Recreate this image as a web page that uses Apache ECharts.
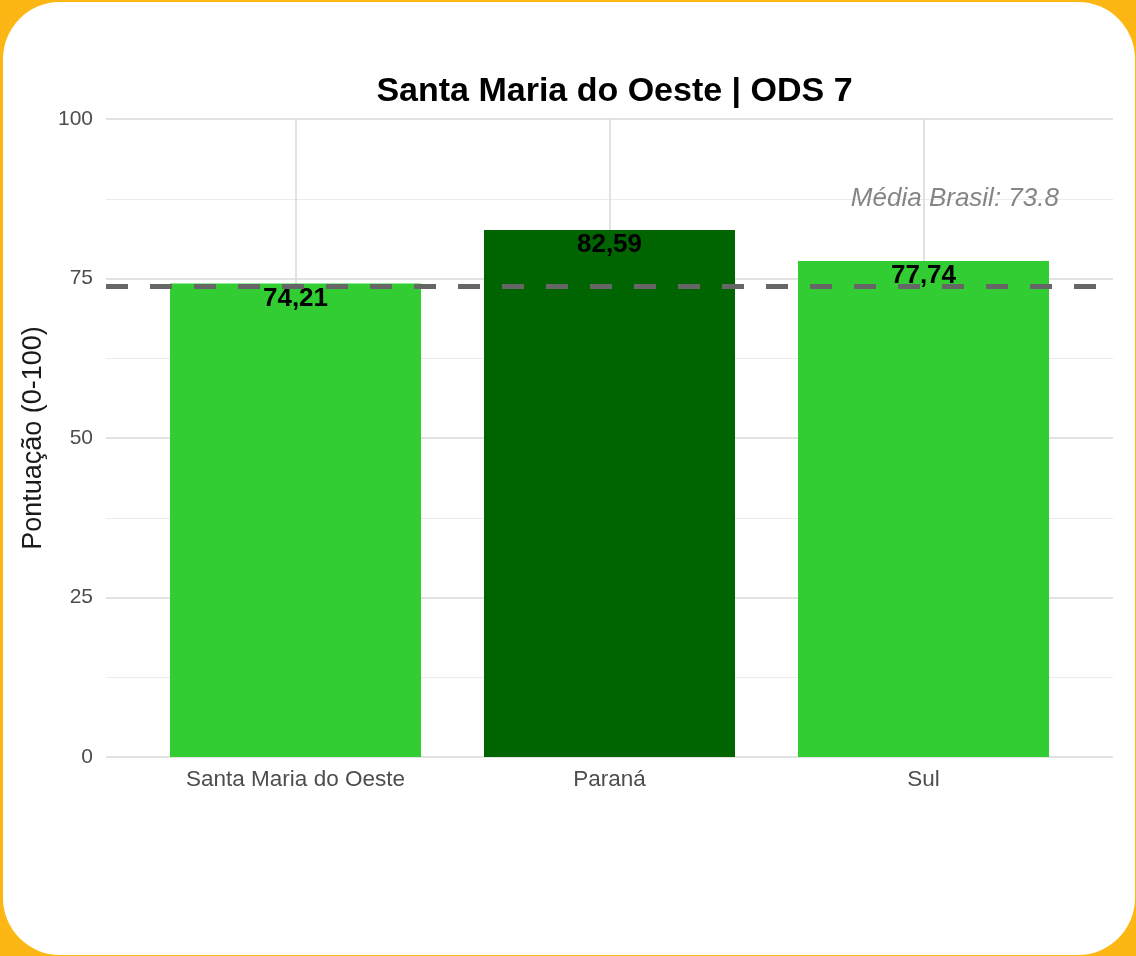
<!DOCTYPE html>
<html>
<head>
<meta charset="utf-8">
<script src="https://cdn.jsdelivr.net/npm/echarts@6/dist/echarts.min.js"></script>
<style>
  html, body { margin:0; padding:0; width:1136px; height:956px; background:#FCB715; overflow:hidden; }
  #panel { position:absolute; left:3px; top:2px; right:1px; bottom:1px; background:#ffffff; border-radius:57px; }
  #chart { position:absolute; left:0; top:0; width:1136px; height:956px; }
</style>
</head>
<body>
<div id="panel"></div>
<div id="chart"></div>
<script>
const titleText = 'Santa Maria do Oeste | ODS 7';
const categories = ['Santa Maria do Oeste', 'Paraná', 'Sul'];
const scores = [74.21, 82.59, 77.74];
const barColors = ['#32CD32', '#006400', '#32CD32'];
const brazilMean = 73.8;
const brazilLabelPos = [0.843, 87.5];
const yTicks = [0, 25, 50, 75, 100];

const chart = echarts.init(document.getElementById('chart'), null, { renderer: 'canvas' });
const fontFam = '"Liberation Sans", Arial, sans-serif';

chart.setOption({
  backgroundColor: 'transparent',
  animation: false,
  title: {
    text: titleText,
    left: 609.5, top: 70, textAlign: 'center',
    textStyle: { fontFamily: fontFam, fontSize: 34, fontWeight: 'bold', color: '#000' }
  },
  grid: [
    { left: 106, top: 119, width: 1007, height: 638 },
    { left: 295.5, top: 119, width: 628, height: 638 }
  ],
  xAxis: [
    { gridIndex: 0, type: 'value', min: 0, max: 1, show: false },
    {
      gridIndex: 1, type: 'category', data: categories, boundaryGap: false,
      axisLine: { show: false }, axisTick: { show: false },
      axisLabel: { color: '#4d4d4d', fontSize: 22.5, fontFamily: fontFam, margin: 11 },
      splitLine: { show: true, lineStyle: { color: '#d9d9d9', width: 1.5 } }
    }
  ],
  yAxis: [
    {
      gridIndex: 0, type: 'value', min: yTicks[0], max: yTicks[yTicks.length - 1], interval: 25,
      name: 'Pontuação (0-100)', nameLocation: 'middle', nameGap: 56, nameRotate: 90,
      nameTextStyle: { color: '#1a1a1a', fontSize: 27, fontFamily: fontFam },
      axisLine: { show: false }, axisTick: { show: false },
      axisLabel: { color: '#4d4d4d', fontSize: 21, fontFamily: fontFam, margin: 13 },
      splitLine: { show: true, lineStyle: { color: '#d9d9d9', width: 1.5 } },
      minorTick: { show: false, splitNumber: 2 },
      minorSplitLine: { show: true, lineStyle: { color: '#ebebeb', width: 1 } }
    },
    { gridIndex: 1, type: 'value', min: 0, max: 100, show: false }
  ],
  series: [
    {
      type: 'bar', xAxisIndex: 1, yAxisIndex: 1, barWidth: 251, clip: false,
      data: scores.map((v, i) => ({ value: v, itemStyle: { color: barColors[i] } })),
      label: {
        show: true, position: 'insideTop', distance: 2,
        formatter: p => p.value.toFixed(2).replace('.', ','),
        fontFamily: fontFam, fontSize: 26, fontWeight: 'bold', color: '#000'
      },
      z: 2
    },
    {
      type: 'scatter', xAxisIndex: 0, yAxisIndex: 0, symbolSize: 0,
      data: [brazilLabelPos],
      label: {
        show: true, position: 'inside',
        formatter: 'Média Brasil: ' + brazilMean,
        fontFamily: fontFam, fontSize: 26, fontStyle: 'italic', color: '#666666'
      },
      markLine: {
        silent: true, symbol: 'none', label: { show: false },
        lineStyle: { color: '#666666', width: 5, type: [22, 22] },
        data: [{ yAxis: brazilMean }]
      },
      z: 5
    }
  ]
});
</script>
</body>
</html>
